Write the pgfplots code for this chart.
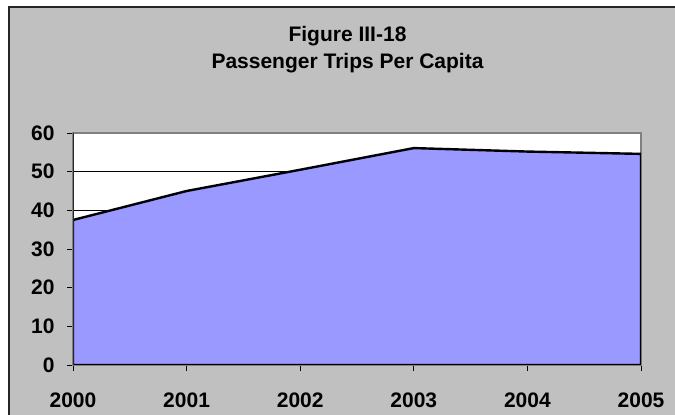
\documentclass[border=0pt]{standalone}
\usepackage{pgfplots}
\pgfplotsset{compat=1.18}
\usepackage{fontspec}
\setmainfont{Liberation Sans}
\definecolor{bggray}{HTML}{C0C0C0}
\definecolor{framegray}{HTML}{808080}
\definecolor{areacol}{HTML}{9999FF}
\begin{document}
\begin{tikzpicture}
\useasboundingbox (0,0) rectangle (675bp,415bp);
\fill[bggray] (9bp,0) rectangle (675bp,408bp);
\draw[black!85, line width=2bp] (9bp,0) -- (9bp,408bp) -- (675bp,408bp);
\node[anchor=base, font=\fontsize{21bp}{24bp}\selectfont\bfseries] at (347.5bp,373bp) {Figure III-18};
\node[anchor=base, font=\fontsize{21bp}{24bp}\selectfont\bfseries] at (347.5bp,346bp) {Passenger Trips Per Capita};
\begin{axis}[
  at={(73bp,50bp)}, anchor=south west,
  scale only axis, width=568bp, height=232bp,
  xmin=2000, xmax=2005, ymin=0, ymax=60,
  xtick={2000,2001,2002,2003,2004,2005},
  ytick={0,10,20,30,40,50,60},
  /pgf/number format/1000 sep={},
  /pgf/number format/assume math mode=true,
  tick pos=left, tick align=outside,
  major tick length=6bp,
  tick style={black, line width=0.8bp},
  axis background/.style={fill=white},
  axis line style={framegray, line width=1.6bp},
  ymajorgrids, grid style={black, line width=0.9bp},
  ticklabel style={font=\fontsize{21bp}{24bp}\selectfont\bfseries},
  xticklabel style={yshift=-18bp},
  yticklabel style={xshift=-9bp},
]
\addplot[fill=areacol, draw=black, line width=2.4bp, line join=round] coordinates {
(2000,37.5) (2001,45.0) (2002,50.5) (2003,56.1) (2004,55.2) (2005,54.6)
} \closedcycle;
\draw[black!85, line width=1.4bp] (axis cs:2000,0) -- (axis cs:2000,60);
\end{axis}
\end{tikzpicture}
\end{document}
